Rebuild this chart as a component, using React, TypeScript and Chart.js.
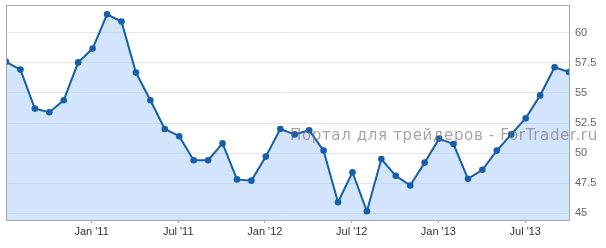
import React, { useEffect, useRef } from "react";
import { Chart, registerables } from "chart.js";

Chart.register(...registerables);

// Monthly observations, Jul 2010 .. Oct 2013
const MONTHS: string[] = [
  "Jul 2010", "Aug 2010", "Sep 2010", "Oct 2010", "Nov 2010", "Dec 2010",
  "Jan 2011", "Feb 2011", "Mar 2011", "Apr 2011", "May 2011", "Jun 2011",
  "Jul 2011", "Aug 2011", "Sep 2011", "Oct 2011", "Nov 2011", "Dec 2011",
  "Jan 2012", "Feb 2012", "Mar 2012", "Apr 2012", "May 2012", "Jun 2012",
  "Jul 2012", "Aug 2012", "Sep 2012", "Oct 2012", "Nov 2012", "Dec 2012",
  "Jan 2013", "Feb 2013", "Mar 2013", "Apr 2013", "May 2013", "Jun 2013",
  "Jul 2013", "Aug 2013", "Sep 2013", "Oct 2013",
];

const VALUES: number[] = [
  57.6, 56.95, 53.7, 53.4, 54.4, 57.55,
  58.7, 61.55, 60.95, 56.7, 54.4, 52.0,
  51.4, 49.4, 49.4, 50.8, 47.8, 47.7,
  49.7, 52.0, 51.55, 51.9, 50.2, 45.9,
  48.4, 45.15, 49.5, 48.1, 47.3, 49.2,
  51.2, 50.75, 47.85, 48.6, 50.2, 51.55,
  52.9, 54.8, 57.15, 56.75,
];

// x-axis tick labels and the month index they mark (first of month)
const X_TICK_MONTHS: number[] = [5.93, 11.93, 17.93, 23.95, 29.95, 35.97];
const X_TICK_LABELS: string[] = ["Jan '11", "Jul '11", "Jan '12", "Jul '12", "Jan '13", "Jul '13"];

const Y_TICKS: number[] = [45, 47.5, 50, 52.5, 55, 57.5, 60];
const Y_MIN = 44.42;
const Y_MAX = 62.33;

const WATERMARK = "Портал для трейдеров - ForTrader.ru";

const framePlugin = {
  id: "frame",
  afterDraw(chart: any) {
    const { ctx, chartArea } = chart;
    ctx.save();
    ctx.strokeStyle = "#a4a8b0";
    ctx.lineWidth = 1;
    ctx.strokeRect(
      Math.round(chartArea.left) + 0.5,
      Math.round(chartArea.top) + 0.5,
      Math.round(chartArea.right - chartArea.left),
      Math.round(chartArea.bottom - chartArea.top)
    );
    ctx.restore();
  },
};

const watermarkPlugin = {
  id: "watermark",
  afterDraw(chart: any) {
    const { ctx } = chart;
    ctx.save();
    ctx.font = "15px 'DejaVu Sans'";
    (ctx as any).letterSpacing = "0.65px";
    ctx.fillStyle = "rgba(125, 105, 105, 0.62)";
    ctx.textBaseline = "alphabetic";
    ctx.textAlign = "left";
    ctx.fillText(WATERMARK, 290, 140);
    ctx.restore();
  },
};

export default function App() {
  const canvasRef = useRef<HTMLCanvasElement | null>(null);

  useEffect(() => {
    if (!canvasRef.current) return;
    const chart = new Chart(canvasRef.current, {
      type: "line",
      data: {
        datasets: [
          {
            label: "Value",
            data: VALUES.map((v, i) => ({ x: i, y: v })),
            borderColor: "#175ea8",
            borderWidth: 2,
            backgroundColor: "rgba(166, 204, 249, 0.5)",
            fill: "start",
            pointRadius: 3.3,
            pointBackgroundColor: "#175ea8",
            pointBorderColor: "#175ea8",
            pointBorderWidth: 0,
            tension: 0,
          },
        ],
      },
      options: {
        responsive: false,
        animation: false,
        events: [],
        layout: { padding: { left: 6, top: 5, right: 0, bottom: 0 } },
        plugins: {
          legend: { display: false },
          tooltip: { enabled: false },
        },
        scales: {
          x: {
            type: "linear",
            min: 0,
            max: VALUES.length - 1,
            border: { display: false },
            grid: {
              display: true,
              drawOnChartArea: false,
              drawTicks: true,
              tickLength: 3,
              color: "#a4a8b0",
            },
            ticks: {
              autoSkip: false,
              maxRotation: 0,
              padding: 2,
              color: "#333333",
              font: { family: "'Liberation Sans', Arial", size: 11 },
              callback: (value: any) => {
                const idx = X_TICK_MONTHS.indexOf(Number(value));
                return idx >= 0 ? X_TICK_LABELS[idx] : "";
              },
            },
            afterBuildTicks: (scale: any) => {
              scale.ticks = X_TICK_MONTHS.map((v) => ({ value: v }));
            },
            afterFit: (scale: any) => {
              scale.height = 28;
              scale.paddingLeft = 0;
              scale.paddingRight = 0;
            },
          },
          y: {
            type: "linear",
            position: "right",
            min: Y_MIN,
            max: Y_MAX,
            border: { display: false },
            grid: {
              color: "#e4e4e4",
              drawTicks: false,
            },
            ticks: {
              padding: 6,
              color: "#666666",
              font: { family: "'Liberation Sans', Arial", size: 11 },
              callback: (value: any) => String(value),
            },
            afterBuildTicks: (scale: any) => {
              scale.ticks = Y_TICKS.map((v) => ({ value: v }));
            },
            afterFit: (scale: any) => {
              scale.width = 37;
              scale.paddingTop = 0;
              scale.paddingBottom = 0;
            },
          },
        },
      },
      plugins: [framePlugin, watermarkPlugin],
    });
    return () => chart.destroy();
  }, []);

  return (
    <div style={{ position: "absolute", left: 0, top: 0, width: 606, height: 248, background: "#fff" }}>
      <canvas ref={canvasRef} width={606} height={248} style={{ display: "block" }} />
    </div>
  );
}
